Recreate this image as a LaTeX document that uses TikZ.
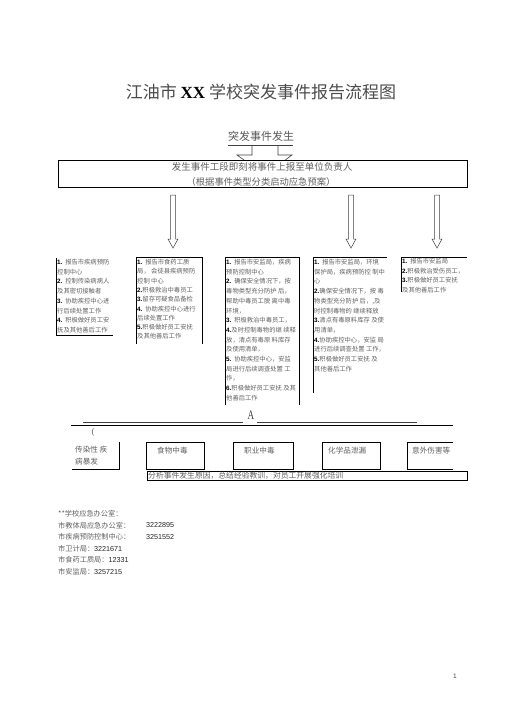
\documentclass[tikz,border=0pt]{standalone}
\usepackage{fontspec}
\setmainfont{Noto Sans CJK SC}
\newfontfamily\serifxx{Liberation Serif}
\newfontfamily\arialf{Liberation Sans}
\newcommand\nb[1]{{\arialf\bfseries\color{black}#1}}
\newcommand\myHarrow[3]{%
  \draw[black!75, line width=0.5pt] ({#1-2.5},#2) -- ({#1-2.5},{#3-9}) -- ({#1-5},{#3-9}) -- (#1,#3) -- ({#1+5},{#3-9}) -- ({#1+2.5},{#3-9}) -- ({#1+2.5},#2) -- cycle;}
\begin{document}
\begin{tikzpicture}[x=1pt,y=-1pt,
  bline/.style={line width=0.8pt},
  txt/.style={anchor=north west, inner sep=0pt, align=left, text=black!62, font=\fontsize{6.3}{9.7}\selectfont},
  lbl/.style={anchor=west, inner sep=0pt, text=black!62, font=\fontsize{7.6}{11.5}\selectfont},
  ctc/.style={anchor=west, inner sep=0pt, text=black!62, font=\fontsize{7.2}{11.6}\selectfont}]
\useasboundingbox (0,0) rectangle (505,714);
\fill[white] (0,0) rectangle (505,714);

% title
\node[inner sep=0pt, text=black!70, font=\fontsize{17}{20}\selectfont] (title) at (261,92) {江油市 {\serifxx\bfseries\color{black} XX} 学校突发事件报告流程图};

% event
\node[inner sep=0pt, text=black!65, font=\fontsize{11}{13}\selectfont] (ev) at (261,136) {突发事件发生};
\draw[black!75, line width=0.6pt] (228,145) -- (293,145);
\draw[black!75, line width=0.6pt] (252,145) -- (252,155) -- (237,155) -- (265,175) -- (292,155) -- (278,155) -- (278,145);

% main box
\node[draw, line width=0.9pt, fill=white, minimum width=409pt, minimum height=27pt, inner sep=0pt] (main) at (262.5,173.5) {};
\node[inner sep=0pt, text=black!62, font=\fontsize{9.5}{11}\selectfont] (m1) at (262,167) {发生事件工段即刻将事件上报至单位负责人};
\node[inner sep=0pt, text=black!62, font=\fontsize{9.3}{11}\selectfont] (m2) at (261,182) {（根据事件类型分类启动应急预案）};

% hollow arrows
\myHarrow{173}{195}{248}
\myHarrow{351}{195}{248}
\myHarrow{437}{195}{248}

% box 1
\draw[bline] (56,258) -- (56,335) -- (113,335);
\node[txt] (b1) at (57,259) {\nb{1.}\ \ 报告市疾病预防\\控制中心\\\nb{2.}\ \ 控制传染病病人\\及其密切接触者\\\nb{3.}\ \ 协助疾控中心进\\行后续处置工作\\\nb{4.}\ \ 积极做好员工安\\抚及其他善后工作};

% box 2
\draw[bline] (136,344) -- (136,257) -- (202,257) -- (202,344);
\node[txt, font=\fontsize{6.3}{9.3}\selectfont] (b2) at (137,259) {\nb{1.}\ \ 报告市食药工质\\局，\ 会徒县疾病预防\\控制 中心\\\nb{2.}积极救治中毒员工\\\nb{3.}留存可疑食品备检\\\nb{4.}\ \ 协助疾控中心进行\\后续处置工作\\\nb{5.}积极做好员工安抚\\及其他善后工作};

% box 3
\draw[bline] (225,405) -- (225,257) -- (299,257) -- (299,405);
\node[txt] (b3) at (226,259) {\nb{1.}\ \ 报告市安监局，疾病\\预防控制中心\\\nb{2.}\ \ 确保安全情况下，按\\毒物类型充分防护 后，\\帮助中毒员工脱 离中毒\\环境，\\\nb{3.}\ \ 积极救治中毒员工，\\\nb{4.}及时控制毒物的继 续释\\放，清点有毒原 料库存\\及使用清单，\\\nb{5.}\ \ 协助疾控中心，安监\\局进行后续调查处置 工\\作，\\\nb{6.}积极做好员工安抚 及其\\他善后工作};

% box 4
\draw[bline] (313,393) -- (313,257) -- (387,257);
\node[txt] (b4) at (314,259) {\nb{1.}\ \ 报告市安监局，环境\\保护局，疾病预防控 制中\\心\\\nb{2.}确保安全情况下，按 毒\\物类型充分防护 后，,及\\时控制毒物的 继续释放\\\nb{3.}清点有毒原料库存 及使\\用清单，\\\nb{4.}协助疾控中心，安监 局\\进行后续调查处置 工作，\\\nb{5.}积极做好员工安抚 及\\其他善后工作};

% box 5
\draw[bline] (401,292) -- (401,257) -- (467,257);
\node[txt] (b5) at (402,258) {\nb{1.}\ \ 报告市安监局\\\nb{2.}积极救治受伤员工，\\\nb{3.}积极做好员工安抚\\及其他善后工作};

% separator
\node[inner sep=0pt, text=black!75, font=\serifxx\fontsize{13}{14}\selectfont, xscale=0.7] (A) at (251,415) {A};
\draw[black!75, line width=0.5pt] (83,422) -- (243,422);
\draw[black!75, line width=0.5pt] (257,422) -- (417,422);
\draw[line width=0.9pt] (71,425.5) -- (453,425.5);
\node[inner sep=0pt, text=black!60, font=\serifxx\fontsize{9}{10}\selectfont] (par) at (93,432) {(};

% bottom boxes
\draw[bline] (72,469) -- (119,469) -- (119,442);
\node[txt, font=\fontsize{7.6}{11.5}\selectfont] (ta) at (75,446) {传染性 疾\\病暴发};
\draw[bline] (146,442) rectangle (204,469);
\node[lbl] (tb) at (157,451) {食物中毒};
\draw[bline] (233,442) rectangle (293,469);
\node[lbl] (tc) at (244,451) {职业中毒};
\draw[bline] (322,442) rectangle (380,469);
\node[lbl] (td) at (328,451) {化学品泄漏};
\draw[bline] (453,442) -- (407,442) -- (407,469) -- (453,469);
\node[lbl] (te) at (412,451) {意外伤害等};
\draw[bline] (147,471) rectangle (467,480);
\node[lbl, font=\fontsize{7.8}{9}\selectfont] (tf) at (148,475.5) {分析事件发生原因，总结经验教训，对员工开展强化培训};

% contacts
\node[ctc] (c0) at (58,514) {**学校应急办公室：};
\node[ctc] (c1) at (58,525.5) {市教体局应急办公室：};
\node[ctc, text=black!85] (n1) at (146,525.5) {\arialf 3222895};
\node[ctc] (c2) at (58,537) {市疾病预防控制中心：};
\node[ctc, text=black!85] (n2) at (146,537) {\arialf 3251552};
\node[ctc] (c3) at (58,548.5) {市卫计局：{\arialf\color{black!85}3221671}};
\node[ctc] (c4) at (58,560) {市食药工质局：{\arialf\color{black!85}12331}};
\node[ctc] (c5) at (58,571.5) {市安监局：{\arialf\color{black!85}3257215}};

% page number
\node[inner sep=0pt, text=black!75, font=\arialf\fontsize{6.5}{7}\selectfont] (pg) at (455,676) {1};
\end{tikzpicture}
\end{document}
